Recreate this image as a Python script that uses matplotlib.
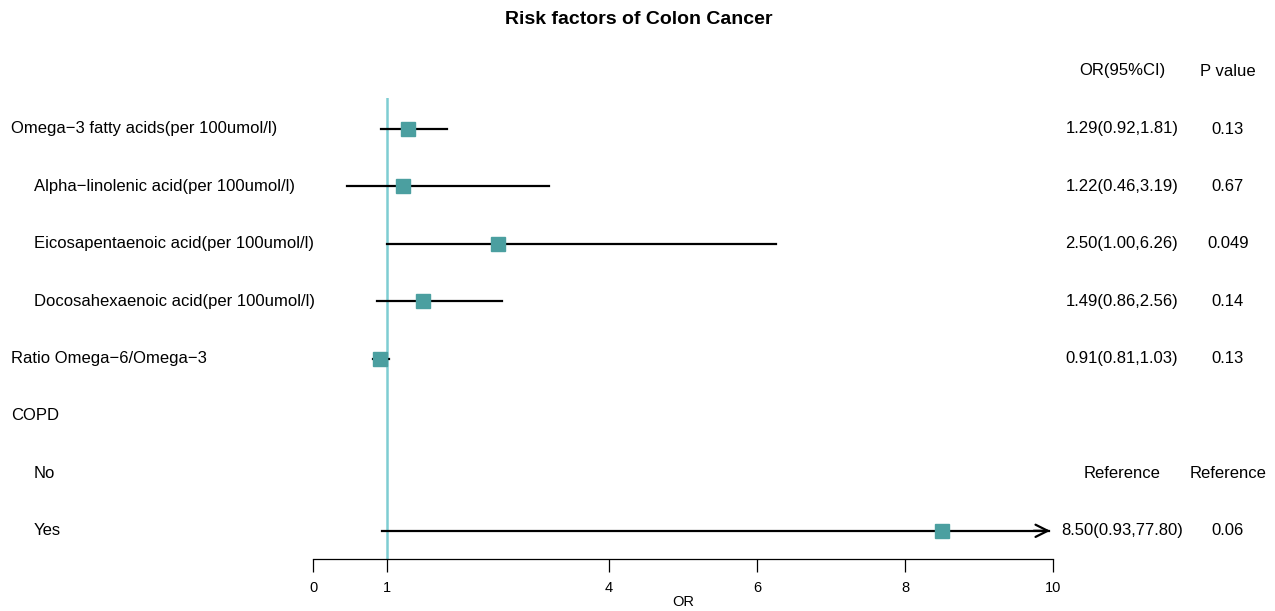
import numpy as np
import matplotlib.pyplot as plt

plt.rcParams['font.family'] = ['Liberation Sans', 'DejaVu Sans']

labels = ["Omega\u22123 fatty acids(per 100umol/l)",
          "Alpha\u2212linolenic acid(per 100umol/l)",
          "Eicosapentaenoic acid(per 100umol/l)",
          "Docosahexaenoic acid(per 100umol/l)",
          "Ratio Omega\u22126/Omega\u22123",
          "COPD",
          "No",
          "Yes"]
indent = [False, True, True, True, False, False, True, True]

OR = [1.29, 1.22, 2.50, 1.49, 0.91, np.nan, np.nan, 8.50]
lower = [0.92, 0.46, 1.00, 0.86, 0.81, np.nan, np.nan, 0.93]
upper = [1.81, 3.19, 6.26, 2.56, 1.03, np.nan, np.nan, 77.80]
or_text = ["1.29(0.92,1.81)", "1.22(0.46,3.19)", "2.50(1.00,6.26)", "1.49(0.86,2.56)",
           "0.91(0.81,1.03)", "", "Reference", "8.50(0.93,77.80)"]
p_text = ["0.13", "0.67", "0.049", "0.14", "0.13", "", "Reference", "0.06"]

xticks = [0, 1, 4, 6, 8, 10]
xmax = 10

W, H = 1275, 611
fig = plt.figure(figsize=(W / 100, H / 100), dpi=100)
ax = fig.add_axes([313 / W, 1 - 559 / H, (1053 - 313) / W, (559 - 98) / H])

row_h = 57.4
ax.set_xlim(0, xmax)
ax.set_ylim((559 - 129) / row_h, (98 - 129) / row_h)

ax.axvline(1, color="#7ecdd2", lw=1.8, zorder=1)

teal = "#4b9fa0"
for i in range(len(labels)):
    if np.isnan(OR[i]):
        continue
    lo, hi = lower[i], upper[i]
    if hi > xmax:
        ax.plot([lo, xmax - 0.05], [i, i], color="black", lw=1.6, zorder=2)
        ax.annotate("", xy=(xmax, i), xytext=(xmax - 0.3, i),
                    arrowprops=dict(arrowstyle="->", color="black", lw=1.6,
                                    mutation_scale=22), zorder=2)
    else:
        ax.plot([lo, hi], [i, i], color="black", lw=1.6, zorder=2)
    ax.plot(OR[i], i, marker="s", ms=9.5, color=teal, mec=teal, zorder=3)

for s in ["top", "right", "left"]:
    ax.spines[s].set_visible(False)
ax.spines["bottom"].set_linewidth(0.9)
ax.set_yticks([])
ax.set_xticks(xticks)
ax.tick_params(axis="x", length=9, width=0.9, pad=7, labelsize=10.5)
ax.set_xlabel("OR", fontsize=10.5, labelpad=0)

# row labels and columns
for i, lab in enumerate(labels):
    xl = 11 if not indent[i] else 34
    ax.annotate(lab, xy=(0, i), xycoords=("figure pixels", "data"),
                xytext=(xl, 0), textcoords="offset pixels",
                ha="left", va="center", fontsize=12)
    ax.annotate(or_text[i], xy=(0, i), xycoords=("figure pixels", "data"),
                xytext=(1122, 0), textcoords="offset pixels",
                ha="center", va="center", fontsize=12)
    ax.annotate(p_text[i], xy=(0, i), xycoords=("figure pixels", "data"),
                xytext=(1228, 0), textcoords="offset pixels",
                ha="center", va="center", fontsize=12)

fig.text(1122 / W, 1 - 71 / H, "OR(95%CI)", ha="center", va="center", fontsize=12)
fig.text(1228 / W, 1 - 71 / H, "P value", ha="center", va="center", fontsize=12)
fig.text(639 / W, 1 - 20 / H, "Risk factors of Colon Cancer", ha="center", va="center",
         fontsize=14, fontweight="bold")

fig.savefig("out.png", dpi=100)
